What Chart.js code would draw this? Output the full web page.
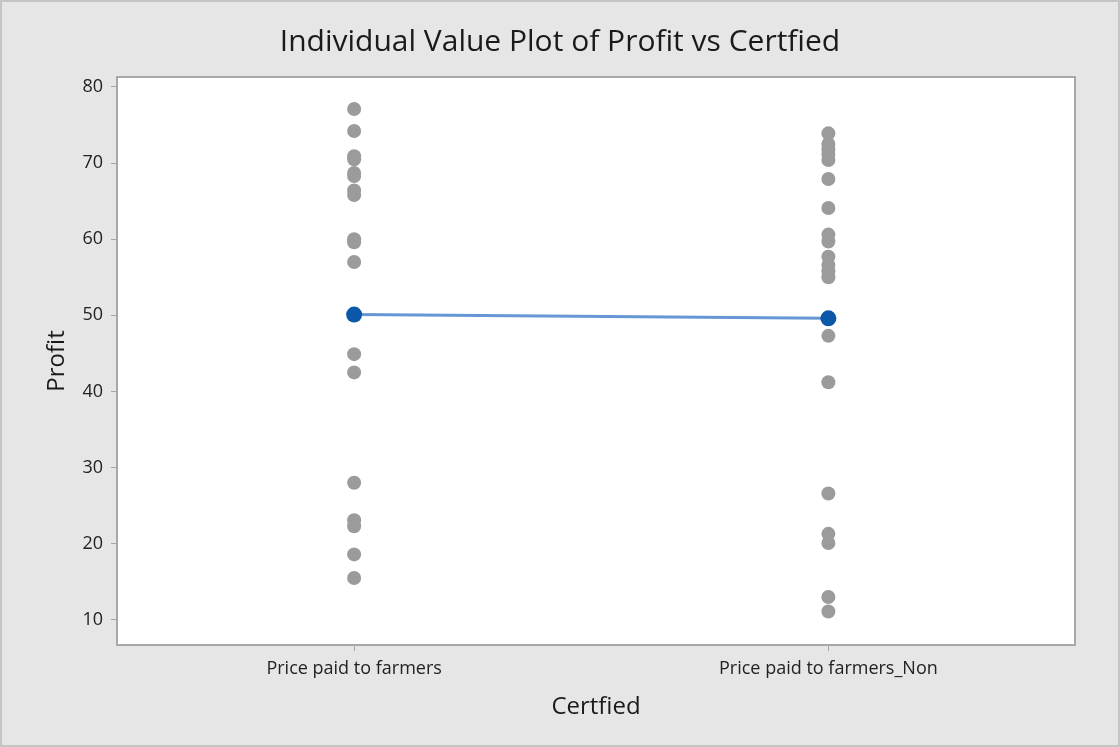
<!DOCTYPE html>
<html>
<head>
<meta charset="utf-8">
<script src="https://cdn.jsdelivr.net/npm/chart.js@4.4.1/dist/chart.umd.min.js"></script>
<style>
    html, body { margin: 0; padding: 0; background: #e6e6e6; }
</style>
</head>
<body>
<canvas id="plot" width="1120" height="747"></canvas>
<script>
// categories on the x axis
const groups = ["Price paid to farmers", "Price paid to farmers_Non"];

// profit values, one list per group
const certifiedProfit = [77.1, 74.2, 70.9, 70.5, 68.7, 68.3, 66.4, 65.8, 60.0, 59.6,
    57.0, 44.9, 42.5, 28.0, 23.1, 22.3, 18.6, 15.5];
const nonCertifiedProfit = [73.9, 72.5, 71.8, 71.2, 70.4, 67.9, 64.1, 60.6, 59.7, 57.7,
    56.6, 55.8, 55.0, 47.3, 41.2, 26.6, 21.3, 20.1, 13.0, 11.1];

// group means (blue connected points)
const groupMeans = [50.1, 49.6];

const yTicks = [10, 20, 30, 40, 50, 60, 70, 80];

const fontName = "'Open Sans', 'Noto Sans', sans-serif";

const toPoints = (vals, pos) => vals.map(v => ({ x: pos, y: v }));

// paints the grey page, white plot area and the frame round it
const framePlugin = {
    id: 'frame',
    beforeDraw(chart) {
        const { ctx, chartArea: a } = chart;
        ctx.save();
        ctx.fillStyle = '#e6e6e6';
        ctx.fillRect(0, 0, chart.width, chart.height);
        ctx.strokeStyle = '#c4c4c4';
        ctx.lineWidth = 2;
        ctx.strokeRect(1, 1, chart.width - 2, chart.height - 2);
        ctx.fillStyle = '#ffffff';
        ctx.fillRect(a.left, a.top, a.right - a.left, a.bottom - a.top);
        ctx.restore();
    },
    afterDraw(chart) {
        const { ctx, chartArea: a } = chart;
        ctx.save();
        ctx.strokeStyle = '#a8a8a8';
        ctx.lineWidth = 2;
        ctx.strokeRect(a.left, a.top, a.right - a.left, a.bottom - a.top);
        ctx.restore();
    }
};

const plotChart = new Chart(document.getElementById('plot'), {
    type: 'scatter',
    data: {
        datasets: [
            {
                type: 'line',
                label: 'Mean',
                data: groupMeans.map((m, i) => ({ x: i + 1, y: m })),
                borderColor: '#6597d4',
                borderWidth: 3,
                pointRadius: 8,
                pointBackgroundColor: '#0b57a8',
                pointBorderWidth: 0,
                order: 0
            },
            {
                label: groups[0],
                data: toPoints(certifiedProfit, 1),
                backgroundColor: '#9b9b9b',
                pointRadius: 7,
                pointBorderWidth: 0,
                order: 1
            },
            {
                label: groups[1],
                data: toPoints(nonCertifiedProfit, 2),
                backgroundColor: '#9b9b9b',
                pointRadius: 7,
                pointBorderWidth: 0,
                order: 1
            }
        ]
    },
    options: {
        responsive: false,
        animation: false,
        layout: {
            padding: 0
        },
        plugins: {
            legend: { display: false },
            tooltip: { enabled: false },
            title: {
                display: true,
                text: 'Individual Value Plot of Profit vs Certfied',
                color: '#1a1a1a',
                font: { family: fontName, size: 30, weight: 'normal' },
                padding: { top: 24, bottom: 17 }
            }
        },
        scales: {
            x: {
                type: 'linear',
                min: 0.5,
                max: 2.52,
                afterBuildTicks: axis => {
                    axis.ticks = groups.map((g, i) => ({ value: i + 1 }));
                },
                afterFit: scale => { scale.height = 102; },
                border: { display: false },
                grid: { drawOnChartArea: false, tickLength: 6, color: '#a8a8a8' },
                ticks: {
                    autoSkip: false,
                    maxRotation: 0,
                    padding: 7,
                    color: '#222',
                    font: { family: fontName, size: 18 },
                    callback: v => groups[Math.round(v) - 1]
                },
                title: {
                    display: true,
                    text: 'Certfied',
                    color: '#1a1a1a',
                    font: { family: fontName, size: 24 },
                    padding: { top: 0, bottom: 25 }
                }
            },
            y: {
                min: 6.7,
                max: 81.3,
                afterBuildTicks: axis => {
                    axis.ticks = yTicks.map(v => ({ value: v }));
                },
                afterFit: scale => { scale.width = 117; },
                border: { display: false },
                grid: { drawOnChartArea: false, tickLength: 6, color: '#a8a8a8' },
                ticks: {
                    padding: 8,
                    color: '#222',
                    font: { family: fontName, size: 18 }
                },
                title: {
                    display: true,
                    text: 'Profit',
                    color: '#1a1a1a',
                    font: { family: fontName, size: 24 },
                    padding: { top: 43, bottom: 0 }
                }
            },
            // empty right-hand strip so the title centres on the whole page
            yRight: {
                type: 'linear',
                position: 'right',
                afterFit: scale => { scale.width = 45; },
                border: { display: false },
                grid: { display: false },
                ticks: { display: false }
            }
        }
    },
    plugins: [framePlugin]
});
</script>
</body>
</html>
